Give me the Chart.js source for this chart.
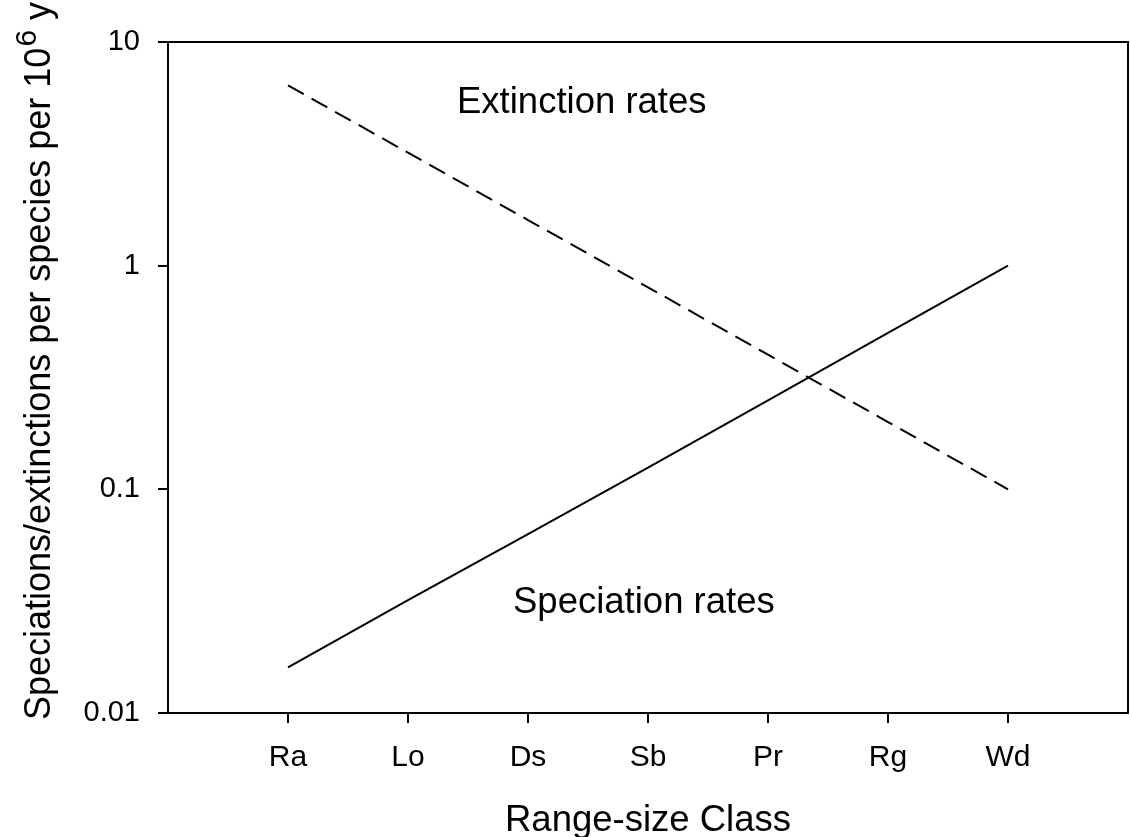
<!DOCTYPE html>
<html>
<head>
<meta charset="utf-8">
<script src="https://cdn.jsdelivr.net/npm/chart.js@4/dist/chart.umd.min.js"></script>
<style>
  html, body { margin:0; padding:0; background:#fff; }
  #wrap { width:1130px; height:837px; position:relative; }
</style>
</head>
<body>
<div id="wrap"><canvas id="chart"></canvas></div>
<script>
// range-size classes, smallest to widest
const categories = ['Ra', 'Lo', 'Ds', 'Sb', 'Pr', 'Rg', 'Wd'];
const extinctionRates = [6.4, 3.2, 1.6, 0.8, 0.4, 0.2, 0.1];
const speciationRates = [0.016, 0.032, 0.063, 0.125, 0.25, 0.5, 1.0];
const yTicks = [0.01, 0.1, 1, 10];

const FONT = '"Liberation Sans", Arial, sans-serif';

const toPoints = vals => vals.map((v, i) => ({ x: i + 1, y: v }));

// frame, axis titles, and curve labels
const decor = {
  id: 'decor',
  afterDraw(chart){
    const { ctx, chartArea: a } = chart;
    ctx.save();
    ctx.strokeStyle = '#000';
    ctx.lineWidth = 2;
    ctx.strokeRect(a.left, a.top, a.right - a.left, a.bottom - a.top);

    ctx.fillStyle = '#000';
    ctx.textBaseline = 'alphabetic';
    ctx.font = '36.5px ' + FONT;
    ctx.textAlign = 'left';
    ctx.fillText('Extinction rates', 457, 113);
    ctx.fillText('Speciation rates', 513, 613);

    ctx.textAlign = 'center';
    ctx.fillText('Range-size Class', (a.left + a.right) / 2, 831);

    // y title with superscript
    ctx.translate(50, 720);
    ctx.rotate(-Math.PI / 2);
    ctx.textAlign = 'left';
    ctx.font = '36px ' + FONT;
    const main = 'Speciations/extinctions per species per 10';
    ctx.fillText(main, 0, 0);
    let w = ctx.measureText(main).width;
    ctx.font = '30px ' + FONT;
    ctx.fillText('6', w + 1, -14);
    w += ctx.measureText('6').width + 1;
    ctx.font = '36px ' + FONT;
    ctx.fillText(' y', w, 0);
    ctx.restore();
  }
};

new Chart(document.getElementById('chart').getContext('2d'), {
  type: 'line',
  data: {
    datasets: [
      { label: 'Extinction rates', data: toPoints(extinctionRates), borderColor: '#000', borderWidth: 2, borderDash: [18, 9], pointRadius: 0, fill: false, tension: 0 },
      { label: 'Speciation rates', data: toPoints(speciationRates), borderColor: '#000', borderWidth: 2, pointRadius: 0, fill: false, tension: 0 }
    ]
  },
  options: {
    responsive: true,
    maintainAspectRatio: false,
    animation: false,
    layout: { padding: { left: 0, top: 42, right: 2, bottom: 0 } },
    plugins: { legend: { display: false }, tooltip: { enabled: false } },
    scales: {
      x: {
        type: 'linear', min: 0, max: 8,
        afterBuildTicks(s){ s.ticks = categories.map((c, i) => ({ value: i + 1 })); },
        afterFit(s){ s.height = 124; },
        ticks: { color: '#000', font: { family: FONT, size: 30 }, padding: 17, maxRotation: 0,
          callback: v => categories[v - 1] },
        grid: { drawOnChartArea: false, drawTicks: true, tickLength: 10, color: '#000', lineWidth: 2 },
        border: { display: true, color: '#000', width: 2 }
      },
      y: {
        type: 'logarithmic', min: 0.01, max: 10,
        afterBuildTicks(s){ s.ticks = yTicks.map(v => ({ value: v })); },
        afterFit(s){ s.width = 168; },
        ticks: { color: '#000', font: { family: FONT, size: 29 }, padding: 18,
          callback: v => String(v) },
        grid: { drawOnChartArea: false, drawTicks: true, tickLength: 10, color: '#000', lineWidth: 2 },
        border: { display: true, color: '#000', width: 2 }
      }
    }
  },
  plugins: [decor]
});
</script>
</body>
</html>
